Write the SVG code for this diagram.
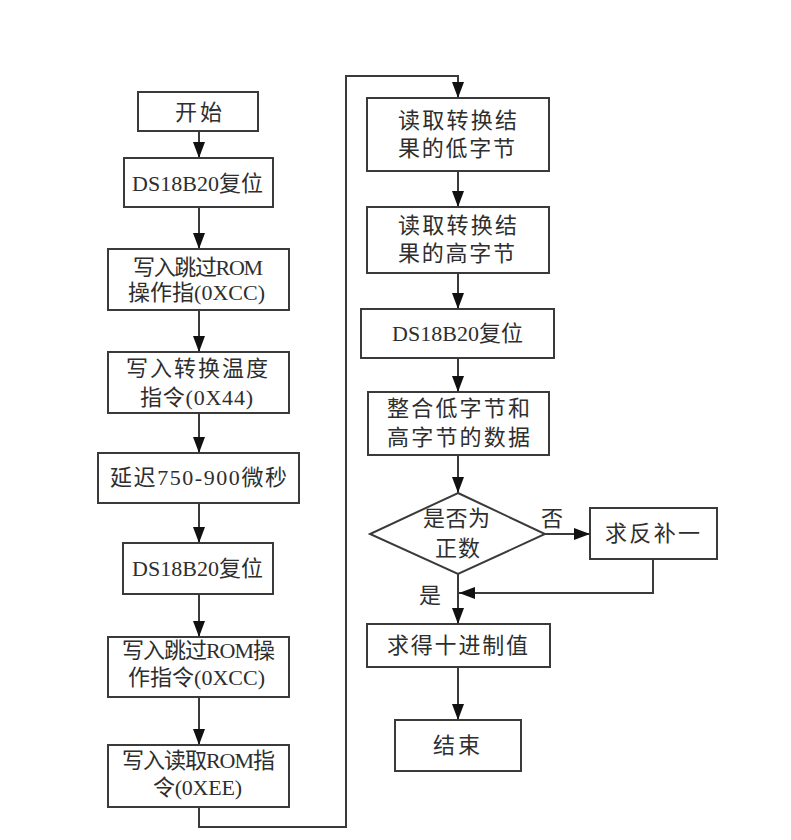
<svg xmlns="http://www.w3.org/2000/svg" width="791" height="840" viewBox="0 0 791 840">
<style>
.box{fill:#fff;stroke:#3a3a3a;stroke-width:2}
.t{font-family:"Liberation Serif","Noto Sans CJK SC",serif;font-size:22px;fill:#2e2e2e}
.c{fill:none;stroke:#3a3a3a;stroke-width:2}
</style>
<defs>
<marker id="ah" markerUnits="userSpaceOnUse" markerWidth="16" markerHeight="12" refX="16" refY="6" orient="auto">
<path d="M0,0 L16,6 L0,12 z" fill="#111"/>
</marker>
</defs>
<rect width="791" height="840" fill="#fff"/>
<g id="connectors">
<path class="c" d="M199,131 V158" marker-end="url(#ah)"/>
<path class="c" d="M199,207 V249" marker-end="url(#ah)"/>
<path class="c" d="M199,310 V352" marker-end="url(#ah)"/>
<path class="c" d="M199,413 V453" marker-end="url(#ah)"/>
<path class="c" d="M199,503 V543" marker-end="url(#ah)"/>
<path class="c" d="M199,594 V637" marker-end="url(#ah)"/>
<path class="c" d="M199,697 V745" marker-end="url(#ah)"/>
<path class="c" d="M199,807 V827 H346 V76 H458 V98" marker-end="url(#ah)"/>
<path class="c" d="M458,171 V207" marker-end="url(#ah)"/>
<path class="c" d="M458,273 V309" marker-end="url(#ah)"/>
<path class="c" d="M458,358 V392" marker-end="url(#ah)"/>
<path class="c" d="M458,455 V493" marker-end="url(#ah)"/>
<path class="c" d="M545,534 H590" marker-end="url(#ah)"/>
<path class="c" d="M653,559 V593 H459" marker-end="url(#ah)"/>
<path class="c" d="M458,574 V624" marker-end="url(#ah)"/>
<path class="c" d="M458,667 V720" marker-end="url(#ah)"/>
<text class="t" x="541" y="526">否</text>
<text class="t" x="419" y="603">是</text>
</g>
<g id="start">
<rect class="box" x="138" y="92" width="120" height="39"/>
<text class="t" x="175" y="120" textLength="47">开始</text>
</g>
<g id="reset1">
<rect class="box" x="124" y="158" width="149" height="49"/>
<text class="t" x="132" y="191" textLength="131">DS18B20复位</text>
</g>
<g id="skiprom1">
<rect class="box" x="108" y="249" width="181" height="61"/>
<text class="t" x="133" y="275" textLength="130">写入跳过ROM</text>
<text class="t" x="128" y="300" textLength="137">操作指(0XCC)</text>
</g>
<g id="convert">
<rect class="box" x="108" y="352" width="181" height="61"/>
<text class="t" x="126" y="376" textLength="142">写入转换温度</text>
<text class="t" x="140" y="405" textLength="113">指令(0X44)</text>
</g>
<g id="delay">
<rect class="box" x="98" y="453" width="201" height="50"/>
<text class="t" x="110" y="485" textLength="177">延迟750-900微秒</text>
</g>
<g id="reset2">
<rect class="box" x="123" y="543" width="150" height="51"/>
<text class="t" x="132" y="576" textLength="131">DS18B20复位</text>
</g>
<g id="skiprom2">
<rect class="box" x="108" y="637" width="181" height="60"/>
<text class="t" x="122" y="658" textLength="153">写入跳过ROM操</text>
<text class="t" x="128" y="685" textLength="137">作指令(0XCC)</text>
</g>
<g id="readrom">
<rect class="box" x="108" y="745" width="181" height="62"/>
<text class="t" x="122" y="768" textLength="153">写入读取ROM指</text>
<text class="t" x="153" y="795" textLength="89">令(0XEE)</text>
</g>
<g id="readlow">
<rect class="box" x="367" y="98" width="182" height="73"/>
<text class="t" x="398" y="128" textLength="119">读取转换结</text>
<text class="t" x="398" y="156" textLength="117">果的低字节</text>
</g>
<g id="readhigh">
<rect class="box" x="367" y="207" width="182" height="66"/>
<text class="t" x="398" y="233" textLength="119">读取转换结</text>
<text class="t" x="398" y="261" textLength="117">果的高字节</text>
</g>
<g id="reset3">
<rect class="box" x="361" y="309" width="193" height="49"/>
<text class="t" x="392" y="341" textLength="131">DS18B20复位</text>
</g>
<g id="merge">
<rect class="box" x="368" y="392" width="181" height="63"/>
<text class="t" x="387" y="416" textLength="143">整合低字节和</text>
<text class="t" x="387" y="445" textLength="143">高字节的数据</text>
</g>
<g id="decision">
<polygon class="box" points="458,493 545,534 458,574 370,534"/>
<text class="t" x="423" y="526" textLength="67">是否为</text>
<text class="t" x="435" y="556" textLength="45">正数</text>
</g>
<g id="complement">
<rect class="box" x="590" y="508" width="127" height="51"/>
<text class="t" x="605" y="541" textLength="95">求反补一</text>
</g>
<g id="decimal">
<rect class="box" x="367" y="624" width="183" height="43"/>
<text class="t" x="387" y="653" textLength="141">求得十进制值</text>
</g>
<g id="end">
<rect class="box" x="395" y="720" width="126" height="51"/>
<text class="t" x="433" y="753" textLength="47">结束</text>
</g>
</svg>
